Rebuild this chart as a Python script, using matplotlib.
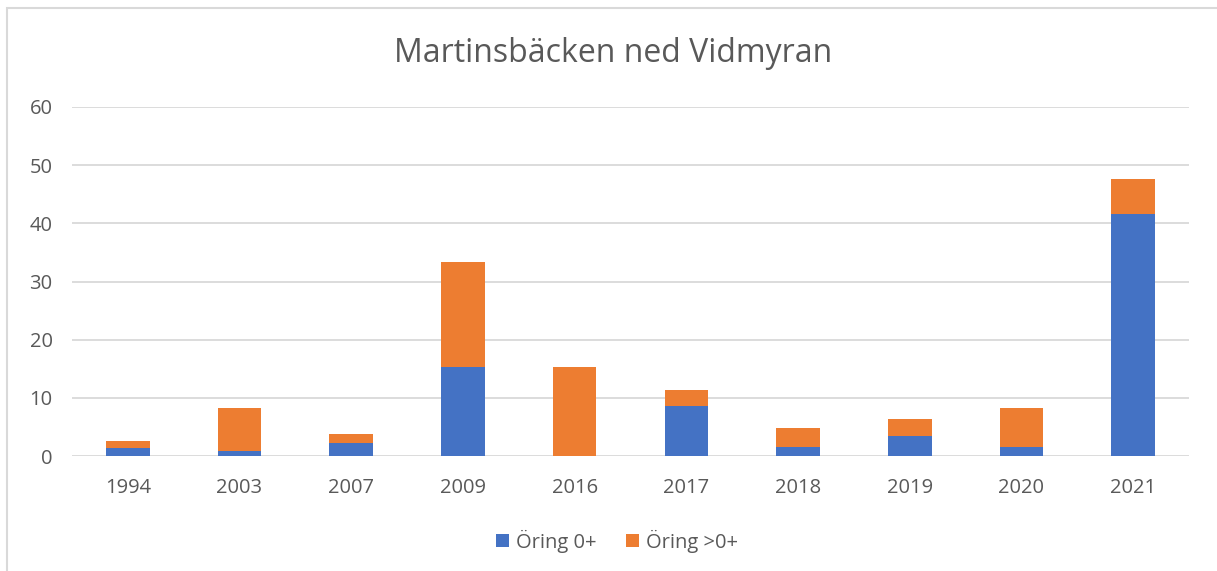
import matplotlib
matplotlib.use("Agg")
import matplotlib.pyplot as plt
from matplotlib.patches import Rectangle
import numpy as np

# --- datos ---
years = ["1994", "2003", "2007", "2009", "2016", "2017", "2018", "2019", "2020", "2021"]
oring_0 = [1.3, 0.9, 2.2, 15.3, 0.0, 8.6, 1.5, 3.4, 1.5, 41.6]
oring_tot = [2.5, 8.2, 3.8, 33.3, 15.3, 11.4, 4.8, 6.3, 8.3, 47.7]
oring_over = [t - b for t, b in zip(oring_tot, oring_0)]
yticks = [0, 10, 20, 30, 40, 50, 60]

BLUE = "#4472C4"
ORANGE = "#ED7D31"
TEXT = "#595959"
GRID = "#D9D9D9"

plt.rcParams['font.family'] = ['Open Sans', 'DejaVu Sans']

fig = plt.figure(figsize=(12.17, 5.71), dpi=100)
ax = fig.add_axes([72 / 1217, 1 - 456 / 571, (1189 - 72) / 1217, (456 - 107) / 571])

x = np.arange(len(years))
ax.bar(x, oring_0, width=0.39, color=BLUE, label="Öring 0+", zorder=3)
ax.bar(x, oring_over, width=0.39, bottom=oring_0, color=ORANGE, label="Öring >0+", zorder=3)

ax.set_xlim(-0.5, len(years) - 0.5)
ax.set_ylim(0, 60)
ax.set_yticks(yticks)
ax.set_xticks(x)
ax.set_xticklabels(years)
ax.tick_params(axis='both', length=0, labelsize=14.5, colors=TEXT)
ax.tick_params(axis='y', pad=14)
ax.tick_params(axis='x', pad=16)
ax.grid(axis='y', color=GRID, linewidth=1.3, zorder=0)
for s in ax.spines.values():
    s.set_visible(False)

fig.text(613 / 1217, 1 - 54 / 571, "Martinsbäcken ned Vidmyran", ha='center', va='center',
         fontsize=23, color=TEXT)

fig.legend(loc='center', bbox_to_anchor=(617 / 1217, 1 - 541 / 571), ncol=2, frameon=False,
           fontsize=14.5, labelcolor=TEXT, handlelength=0.65, handleheight=0.65,
           handletextpad=0.35, columnspacing=1.5)

# marco gris del área del gráfico
fig.patches.append(Rectangle((7 / 1217, -0.1), 1.2, 1.1 - 8 / 571, transform=fig.transFigure,
                             fill=False, edgecolor=GRID, linewidth=1.5))

fig.savefig("out.png", dpi=100)
